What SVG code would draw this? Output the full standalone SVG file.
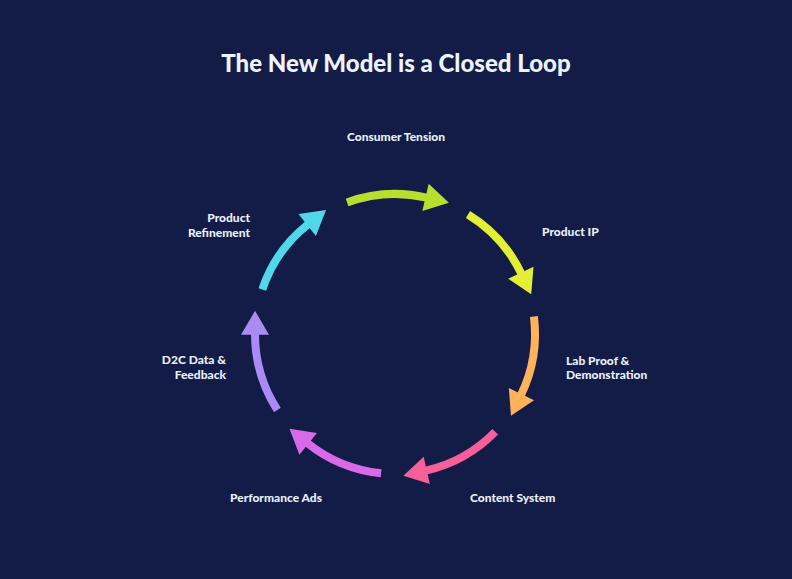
<svg xmlns="http://www.w3.org/2000/svg" width="792" height="579" viewBox="0 0 792 579">
<style>
.bg{fill:#121c46}
.title{font-family:Lato,"Noto Sans",sans-serif;font-weight:900;font-size:24px;fill:#eef4ff}
.lbl{font-family:Lato,"Noto Sans",sans-serif;font-weight:900;font-size:12px;fill:#e8eef8}
.arc{fill:none;stroke-width:8}
</style>
<defs>
<marker id="m0" markerUnits="userSpaceOnUse" orient="auto" markerWidth="26" markerHeight="30" refX="1" refY="14" overflow="visible"><path d="M0,0 L24,14 L0,28 z" fill="#b6df2f"/></marker>
<marker id="m1" markerUnits="userSpaceOnUse" orient="auto" markerWidth="26" markerHeight="30" refX="1" refY="14" overflow="visible"><path d="M0,0 L24,14 L0,28 z" fill="#e3ef35"/></marker>
<marker id="m2" markerUnits="userSpaceOnUse" orient="auto" markerWidth="26" markerHeight="30" refX="1" refY="14" overflow="visible"><path d="M0,0 L24,14 L0,28 z" fill="#feb25c"/></marker>
<marker id="m3" markerUnits="userSpaceOnUse" orient="auto" markerWidth="26" markerHeight="30" refX="1" refY="14" overflow="visible"><path d="M0,0 L24,14 L0,28 z" fill="#f75f99"/></marker>
<marker id="m4" markerUnits="userSpaceOnUse" orient="auto" markerWidth="26" markerHeight="30" refX="1" refY="14" overflow="visible"><path d="M0,0 L24,14 L0,28 z" fill="#d86ae9"/></marker>
<marker id="m5" markerUnits="userSpaceOnUse" orient="auto" markerWidth="26" markerHeight="30" refX="1" refY="14" overflow="visible"><path d="M0,0 L24,14 L0,28 z" fill="#a98bf3"/></marker>
<marker id="m6" markerUnits="userSpaceOnUse" orient="auto" markerWidth="26" markerHeight="30" refX="1" refY="14" overflow="visible"><path d="M0,0 L24,14 L0,28 z" fill="#4fd8e9"/></marker>
</defs>
<rect class="bg" x="0" y="0" width="792" height="579"/>
<text class="title" x="396" y="72" text-anchor="middle">The New Model is a Closed Loop</text>
<g id="connectors">
<path class="arc" stroke="#b6df2f" marker-end="url(#m0)" d="M347.1,202.4 A140,140 0 0 1 426.5,197.6"/>
<path class="arc" stroke="#e3ef35" marker-end="url(#m1)" d="M468.0,214.5 A140,140 0 0 1 521.3,273.6"/>
<path class="arc" stroke="#feb25c" marker-end="url(#m2)" d="M533.9,316.6 A140,140 0 0 1 521.0,395.1"/>
<path class="arc" stroke="#f75f99" marker-end="url(#m3)" d="M495.2,431.7 A140,140 0 0 1 425.8,470.6"/>
<path class="arc" stroke="#d86ae9" marker-end="url(#m4)" d="M381.1,473.3 A140,140 0 0 1 307.4,443.2"/>
<path class="arc" stroke="#a98bf3" marker-end="url(#m5)" d="M277.4,410.0 A140,140 0 0 1 255.0,333.7"/>
<path class="arc" stroke="#4fd8e9" marker-end="url(#m6)" d="M262.3,289.4 A140,140 0 0 1 308.0,224.3"/>
</g>
<g id="node-consumer-tension"><text class="lbl" x="396" y="141" text-anchor="middle">Consumer Tension</text></g>
<g id="node-product-ip"><text class="lbl" x="542" y="236">Product IP</text></g>
<g id="node-lab-proof"><text class="lbl" x="566" y="365">Lab Proof &amp;</text><text class="lbl" x="566" y="379">Demonstration</text></g>
<g id="node-content-system"><text class="lbl" x="470" y="502">Content System</text></g>
<g id="node-performance-ads"><text class="lbl" x="322" y="502" text-anchor="end">Performance Ads</text></g>
<g id="node-d2c-data"><text class="lbl" x="226" y="364" text-anchor="end">D2C Data &amp;</text><text class="lbl" x="226" y="379" text-anchor="end">Feedback</text></g>
<g id="node-product-refinement"><text class="lbl" x="250" y="222" text-anchor="end">Product</text><text class="lbl" x="250" y="237" text-anchor="end">Refinement</text></g>
</svg>
